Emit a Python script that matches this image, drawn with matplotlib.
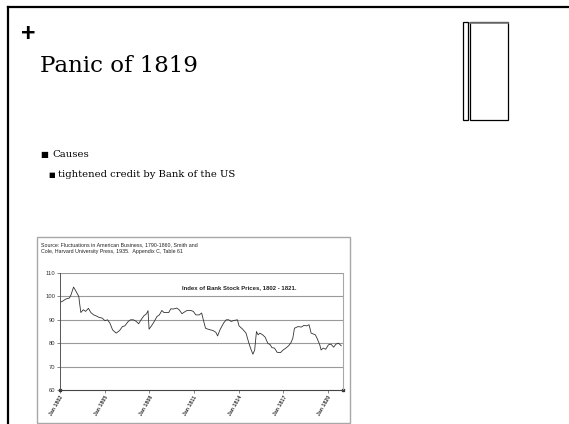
import matplotlib
matplotlib.use("Agg")
import matplotlib.pyplot as plt
from matplotlib.lines import Line2D
from matplotlib.patches import Rectangle

# ---- data ----
years = [1802.00, 1802.16, 1802.40, 1802.63, 1802.74, 1802.91, 1803.09, 1803.26, 1803.33, 1803.40,
         1803.56, 1803.72, 1803.91, 1804.07, 1804.26, 1804.42, 1804.60, 1804.84, 1805.02, 1805.19,
         1805.35, 1805.53, 1805.77, 1806.00, 1806.19, 1806.35, 1806.58, 1806.74, 1806.93, 1807.12,
         1807.28, 1807.44, 1807.63, 1807.81, 1807.91, 1807.98, 1808.14, 1808.33, 1808.51, 1808.67,
         1808.84, 1808.98, 1809.14, 1809.30, 1809.44, 1809.60, 1809.84, 1810.00, 1810.19, 1810.37,
         1810.53, 1810.77, 1810.95, 1811.12, 1811.35, 1811.51, 1811.65, 1811.77, 1811.93, 1812.09,
         1812.28, 1812.47, 1812.58, 1812.74, 1812.98, 1813.16, 1813.33, 1813.49, 1813.67, 1813.91,
         1814.02, 1814.26, 1814.49, 1814.65, 1814.79, 1814.95, 1815.07, 1815.19, 1815.30, 1815.42,
         1815.60, 1815.77, 1815.95, 1816.12, 1816.23, 1816.40, 1816.58, 1816.81, 1816.98, 1817.16,
         1817.35, 1817.51, 1817.63, 1817.74, 1817.98, 1818.21, 1818.37, 1818.56, 1818.72, 1818.86,
         1819.14, 1819.26, 1819.44, 1819.53, 1819.67, 1819.84, 1820.02, 1820.19, 1820.37, 1820.53,
         1820.70, 1820.88]
index = [97.4, 97.9, 98.9, 99.3, 100.7, 104.0, 102.0, 100.0, 96.4, 93.1,
         94.3, 93.6, 94.9, 93.1, 92.1, 91.7, 91.1, 90.7, 89.6, 90.0,
         88.6, 85.7, 84.3, 85.4, 87.1, 87.4, 89.3, 90.0, 90.0, 89.3,
         88.3, 90.0, 91.7, 92.6, 93.9, 86.0, 87.4, 89.3, 91.4, 92.1,
         94.0, 93.1, 93.1, 93.1, 94.7, 94.6, 95.0, 94.3, 92.6, 93.4,
         94.0, 94.0, 93.6, 92.1, 92.1, 92.9, 89.3, 86.4, 86.0, 85.7,
         85.4, 84.6, 83.1, 85.7, 88.6, 90.0, 90.0, 89.3, 89.7, 90.0,
         87.4, 86.0, 84.3, 80.7, 77.9, 75.3, 77.1, 85.0, 83.6, 84.3,
         83.6, 82.6, 80.0, 79.3, 78.1, 77.9, 76.1, 76.0, 77.1, 77.9,
         78.9, 80.3, 82.1, 86.4, 87.1, 86.9, 87.6, 87.4, 87.9, 84.3,
         83.6, 82.1, 79.3, 77.1, 77.9, 77.4, 79.3, 79.6, 78.3, 79.6,
         80.0, 78.9]
tick_years = [1802, 1805, 1808, 1811, 1814, 1817, 1820]
tick_labels = ["Jan 1802", "Jan 1805", "Jan 1808", "Jan 1811", "Jan 1814", "Jan 1817", "Jan 1820"]
y_ticks = [60, 70, 80, 90, 100, 110]

W, H = 569, 424
fig = plt.figure(figsize=(W / 100, H / 100), dpi=100)
fig.patch.set_facecolor("white")

def fx(x):
    return x / W

def fy(y):
    return 1 - y / H

serif = "DejaVu Serif"
sans = "Liberation Sans"

# slide frame
fig.add_artist(Line2D([fx(8), fx(8)], [fy(7), fy(H)], color="black", lw=1.6))
fig.add_artist(Line2D([fx(8), fx(W)], [fy(7), fy(7)], color="black", lw=1.6))

# title
fig.text(fx(21), fy(34), "+", fontsize=18, fontweight="bold", family=sans, va="center", ha="left")
fig.text(fx(40), fy(72), "Panic of 1819", fontsize=16.5, family=serif, va="baseline", ha="left")

# decorative rectangles
fig.add_artist(Rectangle((fx(463), fy(120)), fx(5), fy(22) - fy(120), fill=False, ec="black", lw=0.9))
fig.add_artist(Rectangle((fx(470), fy(120)), fx(38), fy(22) - fy(120), fill=False, ec="black", lw=0.9))
fig.add_artist(Line2D([fx(470), fx(508)], [fy(22.5), fy(22.5)], color="#777", lw=1.2))

# bullets
fig.text(fx(40), fy(157), "\u25a0", fontsize=6, family="DejaVu Sans", va="baseline")
fig.text(fx(52), fy(157), "Causes", fontsize=7.3, family=serif, va="baseline")
fig.text(fx(48), fy(177), "\u25a0", fontsize=5, family="DejaVu Sans", va="baseline")
fig.text(fx(58), fy(177), "tightened credit by Bank of the US", fontsize=7.2, family=serif, va="baseline")

# chart box
fig.add_artist(Rectangle((fx(37), fy(423)), fx(350) - fx(37), fy(237) - fy(423),
                         fill=False, ec="#a8a8a8", lw=1.0))
fig.text(fx(41), fy(246), "Source: Fluctuations in American Business, 1790-1860, Smith and",
         fontsize=3.8, family=sans, va="baseline", color="#222")
fig.text(fx(41), fy(253), "Cole, Harvard University Press, 1935.  Appendix C, Table 61",
         fontsize=3.8, family=sans, va="baseline", color="#222")

# chart axes
ax = fig.add_axes([fx(60), fy(390), fx(343) - fx(60), fy(273) - fy(390)])
ax.plot(years, index, color="#333333", lw=0.6)
ax.set_xlim(1802, 1821)
ax.set_ylim(60, 110)
ax.set_yticks(y_ticks)
ax.set_yticklabels([str(v) for v in y_ticks], fontsize=4.2, family=sans, color="#333")
ax.set_xticks(tick_years)
ax.set_xticklabels(tick_labels, rotation=60, ha="right", va="top", rotation_mode="anchor",
                   fontsize=3.8, family=sans, fontweight="bold", color="#333")
ax.tick_params(axis="both", length=2, width=0.5, color="#555", pad=1.5)
for v in y_ticks[1:]:
    ax.axhline(v, color="#9a9a9a", lw=0.8, zorder=0)
ax.spines["top"].set_visible(False)
ax.spines["right"].set_color("#a8a8a8")
ax.spines["left"].set_color("#555")
ax.spines["bottom"].set_color("#444")
ax.spines["left"].set_linewidth(0.7)
ax.spines["bottom"].set_linewidth(0.8)
ax.plot([1802, 1821], [60, 60], ls="none", marker="s", ms=2, color="#333", clip_on=False)
ax.text(0.633, 0.878, "Index of Bank Stock Prices, 1802 - 1821.", transform=ax.transAxes,
        fontsize=4.3, fontweight="bold", family=sans, ha="center", va="center", color="#222")

fig.savefig("out.png", dpi=100)
